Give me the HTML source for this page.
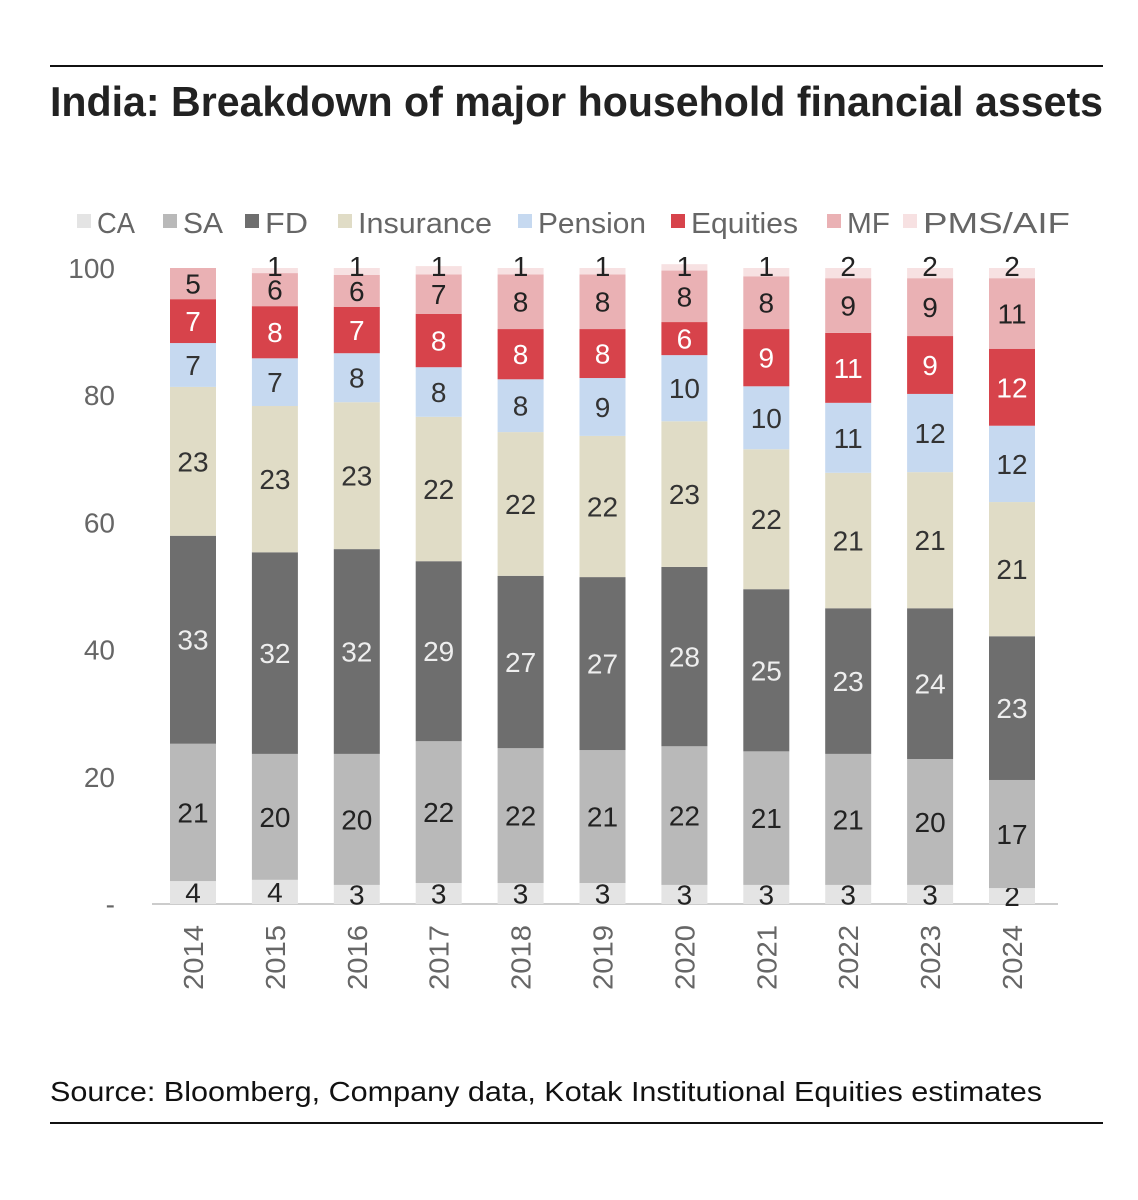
<!DOCTYPE html>
<html><head><meta charset="utf-8"><style>
body{margin:0;background:#fff;}
svg{display:block;font-family:"Liberation Sans",sans-serif;}
</style></head><body>
<svg id="chart" width="1138" height="1200" viewBox="0 0 1138 1200">
<line x1="50" y1="66" x2="1103" y2="66" stroke="#111" stroke-width="2"/>
<text x="50" y="116" font-size="42" font-weight="bold" fill="#222" textLength="1053" lengthAdjust="spacingAndGlyphs">India: Breakdown of major household financial assets</text>
<g id="legend"></g>
<g id="yaxis"></g>
<g id="bars"></g>
<g id="xaxis"></g>
<text x="50" y="1101" font-size="28" fill="#111" textLength="992" lengthAdjust="spacingAndGlyphs">Source: Bloomberg, Company data, Kotak Institutional Equities estimates</text>
<line x1="50" y1="1123" x2="1103" y2="1123" stroke="#111" stroke-width="2"/>
</svg>
<script>
const years=["2014","2015","2016","2017","2018","2019","2020","2021","2022","2023","2024"];
const seriesNames=["CA","SA","FD","Insurance","Pension","Equities","MF","PMS/AIF"];
const CA=[3.6,3.8,3,3.3,3.3,3.3,3,3,3,3,2.5];
const SA=[21.6,19.8,20.6,22.3,21.2,20.9,21.8,21,20.6,19.8,17];
const FD=[32.7,31.7,32.2,28.3,27.1,27.2,28.2,25.5,22.9,23.7,22.6];
const Insurance=[23.4,23,23.1,22.7,22.6,22.2,22.9,22,21.3,21.4,21.1];
const Pension=[6.9,7.5,7.7,7.8,8.3,9.1,10.4,9.9,11,12.3,12];
const Equities=[6.9,8.2,7.3,8.4,7.9,7.7,5.2,9,11,9.1,12.1];
const MF=[4.9,5.2,5,6.2,8.6,8.6,8.1,8.3,8.6,9.1,11.1];
const PMS=[0,0.8,1.1,1.3,1,1,1,1.3,1.6,1.6,1.6];
const labCA=[4,4,3,3,3,3,3,3,3,3,2];
const labSA=[21,20,20,22,22,21,22,21,21,20,17];
const labFD=[33,32,32,29,27,27,28,25,23,24,23];
const labIns=[23,23,23,22,22,22,23,22,21,21,21];
const labPen=[7,7,8,8,8,9,10,10,11,12,12];
const labEq=[7,8,7,8,8,8,6,9,11,9,12];
const labMF=[5,6,6,7,8,8,8,8,9,9,11];
const labPMS=[null,1,1,1,1,1,1,1,2,2,2];
const yTicks=[0,20,40,60,80,100];
const yTickLabels=["-","20","40","60","80","100"];

const NS="http://www.w3.org/2000/svg";
const colors=["#e4e4e4","#b9b9b9","#6e6e6e","#e0dcc6","#c6d9f0","#d7434b","#eab1b4","#f7e1e2"];
const textColors=["#222","#222","#eee","#333","#333","#fff","#222","#222"];
const data=[CA,SA,FD,Insurance,Pension,Equities,MF,PMS];
const labels=[labCA,labSA,labFD,labIns,labPen,labEq,labMF,labPMS];
const y=v=>904-v*6.36;
const x=i=>193+i*81.9;
const bw=46;
function mk(tag,attrs,parent){const e=document.createElementNS(NS,tag);for(const k in attrs)e.setAttribute(k,attrs[k]);parent.appendChild(e);return e;}

const ya=document.getElementById('yaxis');
yTicks.forEach((t,i)=>{
  const e=mk('text',{x:115,y:y(t)+10,'font-size':28,fill:'#666','text-anchor':'end'},ya);
  e.textContent=yTickLabels[i];
  
  
});
const base=mk('line',{x1:152,x2:1058,y1:904,y2:904,stroke:'#ccc','stroke-width':2},ya);



const bars=document.getElementById('bars');
years.forEach((yr,i)=>{
  let cum=0;
  data.forEach((s,k)=>{
    const v=s[i];const y0=y(cum),y1=y(cum+v);cum+=v;
    if(v>0){
      const r=mk('rect',{x:x(i)-bw/2,y:y1,width:bw,height:y0-y1,fill:colors[k]},bars);
      
      
    }
    const lab=labels[k][i];
    if(lab!==null){
      const cy=k===7?266:(y0+y1)/2;
      const t=mk('text',{x:x(i),y:cy+10,'font-size':28,fill:textColors[k],'text-anchor':'middle'},bars);
      t.textContent=lab;
      
      
    }
  });
  const xl=mk('text',{x:0,y:0,'font-size':28,fill:'#666','text-anchor':'end',textLength:65,lengthAdjust:'spacingAndGlyphs',transform:`translate(${x(i)+10},925) rotate(-90)`},document.getElementById('xaxis'));
  xl.textContent=yr;
  
  
});

const lg=document.getElementById('legend');
const lx=[77,163,245,338,518,671,827,903];
const lw=[38,40,43,134,108,107,43,147];
seriesNames.forEach((n,k)=>{
  const r=mk('rect',{x:lx[k],y:214,width:14,height:14,fill:colors[k]},lg);
  
  
  const t=mk('text',{x:lx[k]+20,y:233,'font-size':29,fill:'#666',textLength:lw[k],lengthAdjust:'spacingAndGlyphs'},lg);
  t.textContent=n;
  
  
});
</script>
</body></html>
